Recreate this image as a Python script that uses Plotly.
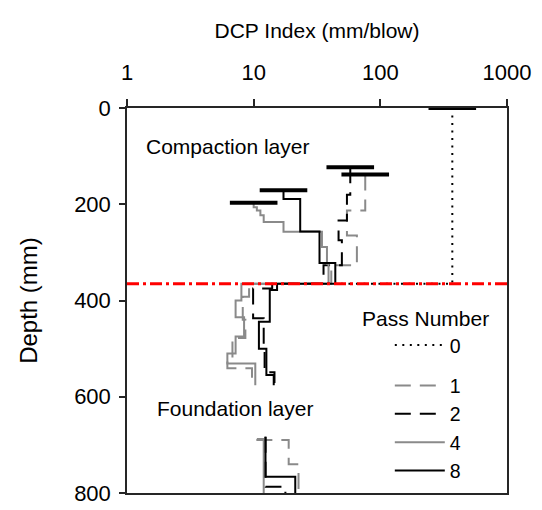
import plotly.graph_objects as go

# Pass numbers shown in the legend
pass_labels = ["0", "1", "2", "4", "8"]

# Step profiles: DCP index (mm/blow) starting at each listed depth (mm); None splits layers
depth_p0 = [0, 365]
dcp_p0 = [370, 45]

depth_p1 = [138, 213, 265, 327, 365, 392, 440, 478, 520, 541, 576, None, 690, 690, 740, 795]
dcp_p1 = [76.0, 54.5, 65.3, 41.0, 9.2, 8.2, 8.6, 6.8, 6.2, 9.7, 9.7, None, 10.5, 18.9, 22.6, 22.6]

depth_p2 = [123, 180, 234, 275, 327, 365, 375, 437, 500, 549, 576, None, 683, 787, 800]
dcp_p2 = [57.9, 54.5, 46.8, 49.7, 35.6, 14.0, 9.9, 12.0, 12.2, 14.6, 14.6, None, 12.4, 17.8, 17.8]

depth_p4 = [197, 206, 213, 223, 237, 257, 289, 323, 365, 400, 435, 475, 510, 531, 576, None, 688, 688, 800]
dcp_p4 = [10.0, 10.6, 11.3, 12.0, 17.2, 34.6, 37.9, 39.0, 8.0, 7.2, 8.4, 7.2, 6.2, 10.3, 10.3, None, 10.6, 12.0, 12.0]

depth_p8 = [171, 189, 256.5, 322, 365, 378, 444, 500, 555, 576, None, 683, 766, 800]
dcp_p8 = [17.2, 23.3, 33.1, 44.1, 15.3, 13.4, 11.0, 12.6, 14.4, 14.4, None, 12.4, 21.3, 21.3]

# Boundary between compaction layer and foundation layer (mm)
layer_boundary = 365

FONT = "Arial, Liberation Sans, sans-serif"
GRAY = "#8a8a8a"

series = [
    (pass_labels[0], depth_p0, dcp_p0, "black", "2px,5.5px", "g0"),
    (pass_labels[1], depth_p1, dcp_p1, GRAY, "16px,9px", "g1"),
    (pass_labels[2], depth_p2, dcp_p2, "black", "16px,9px", "g1"),
    (pass_labels[3], depth_p4, dcp_p4, GRAY, "solid", "g1"),
    (pass_labels[4], depth_p8, dcp_p8, "black", "solid", "g1"),
]

fig = go.Figure()

for name, depth, dcp, color, dash, group in series:
    fig.add_trace(go.Scatter(
        x=dcp, y=depth, mode="lines", name=name,
        line=dict(color=color, width=2, dash=dash, shape="vh"),
        connectgaps=False, legendgroup=group,
    ))

# Surface marker at the start of each profile
for name, depth, dcp, color, dash, group in series:
    fig.add_trace(go.Scatter(
        x=[dcp[0]], y=[depth[0]], mode="markers", showlegend=False,
        marker=dict(symbol="line-ew", size=34, color="black",
                    line=dict(color="black", width=4)),
        cliponaxis=False, hoverinfo="skip",
    ))

fig.add_shape(
    type="line", xref="paper", yref="y", x0=0, x1=1,
    y0=layer_boundary, y1=layer_boundary,
    line=dict(color="#ff0000", width=3, dash="12px,4px,3px,4px"),
)

note_font = dict(family=FONT, size=21, color="black")
fig.add_annotation(text="Compaction layer", x=0.265, y=80, xref="paper", yref="y",
                   xanchor="center", showarrow=False, font=note_font)
fig.add_annotation(text="Foundation layer", x=0.285, y=624, xref="paper", yref="y",
                   xanchor="center", showarrow=False, font=note_font)
fig.add_annotation(text="Pass Number", x=0.786, y=437, xref="paper", yref="y",
                   xanchor="center", showarrow=False, font=note_font)

axis_common = dict(
    showline=True, linecolor="#262626", linewidth=1.5, mirror=True,
    showgrid=False, zeroline=False, ticks="outside", tickcolor="#262626",
    tickwidth=1.5, tickfont=dict(family=FONT, size=22, color="black"),
)

fig.update_xaxes(
    type="log", range=[0, 3], side="top",
    tickvals=[1, 10, 100, 1000], ticktext=["1", "10", "100", "1000"],
    ticklen=7, ticklabelstandoff=10,
    title=dict(text="DCP Index (mm/blow)", standoff=16,
               font=dict(family=FONT, size=21, color="black")),
    **axis_common,
)
fig.update_yaxes(
    range=[800, 0], tickvals=[0, 200, 400, 600, 800],
    ticklen=6, ticklabelstandoff=4,
    title=dict(text="Depth (mm)", standoff=30,
               font=dict(family=FONT, size=24, color="black")),
    **axis_common,
)

fig.update_layout(
    width=542, height=510,
    margin=dict(l=126.5, r=34.5, t=108, b=17.3, autoexpand=False),
    paper_bgcolor="white", plot_bgcolor="white",
    font=dict(family=FONT, size=21, color="black"),
    showlegend=True,
    legend=dict(
        x=(390 - 126.5) / 381, y=0.434, xanchor="left", yanchor="top",
        bgcolor="rgba(0,0,0,0)", traceorder="grouped", tracegroupgap=12,
        itemwidth=50, font=dict(family=FONT, size=19.5, color="black"),
    ),
)

fig.write_html("out.html")
